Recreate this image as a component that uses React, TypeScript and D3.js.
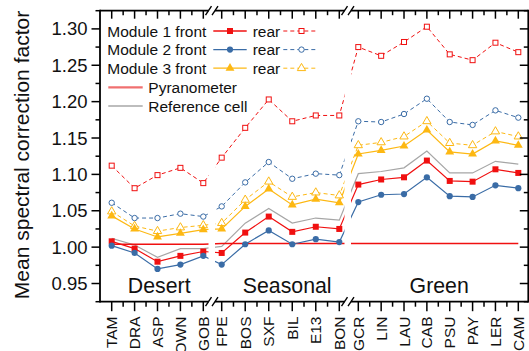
import React from "react";
import * as d3 from "d3";

const desertSites = ["TAM", "DRA", "ASP", "DOWN", "GOB"];
const seasonalSites = ["FPE", "BOS", "SXF", "BIL", "E13", "BON"];
const greenSites = ["GCR", "LIN", "LAU", "CAB", "PSU", "PAY", "LER", "CAM"];
const groupNames = ["Desert", "Seasonal", "Green"];

const m1Front = [1.008, 0.998, 0.980, 0.988, 0.994, 0.992, 1.020, 1.042, 1.021, 1.028, 1.025, 1.086, 1.093, 1.096, 1.119, 1.091, 1.090, 1.107, 1.102];
const m1Rear = [1.112, 1.081, 1.099, 1.109, 1.088, 1.123, 1.164, 1.203, 1.173, 1.181, 1.181, 1.275, 1.263, 1.282, 1.303, 1.265, 1.257, 1.281, 1.268];
const m2Front = [1.002, 0.992, 0.970, 0.976, 0.988, 0.976, 1.004, 1.023, 1.004, 1.011, 1.007, 1.062, 1.072, 1.073, 1.096, 1.070, 1.069, 1.085, 1.081];
const m2Rear = [1.061, 1.040, 1.040, 1.046, 1.042, 1.056, 1.089, 1.117, 1.094, 1.101, 1.099, 1.173, 1.172, 1.183, 1.204, 1.172, 1.168, 1.188, 1.178];
const m3Front = [1.043, 1.025, 1.014, 1.019, 1.024, 1.025, 1.056, 1.080, 1.058, 1.066, 1.061, 1.128, 1.133, 1.139, 1.161, 1.131, 1.128, 1.146, 1.140];
const m3Rear = [1.049, 1.029, 1.022, 1.027, 1.030, 1.033, 1.065, 1.090, 1.069, 1.075, 1.071, 1.140, 1.144, 1.152, 1.173, 1.143, 1.140, 1.159, 1.152];
const refCell = [1.012, 1.003, 0.986, 0.998, 0.998, 1.001, 1.033, 1.053, 1.033, 1.040, 1.037, 1.101, 1.104, 1.109, 1.132, 1.102, 1.102, 1.118, 1.114];
const pyranometer = [1.004, 1.004, 1.004, 1.004, 1.004, 1.005, 1.005, 1.005, 1.005, 1.005, 1.005, 1.005, 1.005, 1.005, 1.005, 1.005, 1.005, 1.005, 1.005];
const yTicks = [0.95, 1.0, 1.05, 1.1, 1.15, 1.2, 1.25, 1.3];

const RED = "#f01010";
const BLUE = "#3a6ca6";
const YEL = "#fdb813";
const FONT = "'Liberation Sans', Arial, sans-serif";

const TOP = 10.7;
const BOT = 301.7;
const LEFT = 100;
const RIGHT = 528.3;

const y = d3.scaleLinear().domain([0.925, 1.325]).range([BOT, TOP]);

// axis segments of the broken x axis
const segLayout = [
  { sites: desertSites, a0: LEFT, a1: 208.5, r: [111.7, 203.3] },
  { sites: seasonalSites, a0: 215, a1: 344.5, r: [221.7, 339.3] },
  { sites: greenSites, a0: 351, a1: RIGHT, r: [358.3, 518.3] },
];
const segs = segLayout.map((s) => ({
  ...s,
  x: d3.scaleLinear().domain([0, s.sites.length - 1]).range(s.r),
}));
const allSites: { name: string; x: number }[] = [];
segs.forEach((s) => s.sites.forEach((n, i) => allSites.push({ name: n, x: s.x(i) })));
const xs = allSites.map((d) => d.x);

const lineGen = d3
  .line<number>()
  .x((_, i) => xs[i])
  .y((v) => y(v));

const triPath = d3.symbol(d3.symbolTriangle, 34)()!;
const triOpen = d3.symbol(d3.symbolTriangle, 30)()!;

type Series = { vals: number[]; color: string; dashed: boolean; marker: string; width: number };
const series: Series[] = [
  { vals: refCell, color: "#a6a6a6", dashed: false, marker: "none", width: 1.2 },
  { vals: pyranometer, color: RED, dashed: false, marker: "none", width: 1.3 },
  { vals: m1Rear, color: RED, dashed: true, marker: "osq", width: 1 },
  { vals: m2Rear, color: BLUE, dashed: true, marker: "oci", width: 1 },
  { vals: m3Rear, color: YEL, dashed: true, marker: "otr", width: 1 },
  { vals: m3Front, color: YEL, dashed: false, marker: "tr", width: 1.2 },
  { vals: m1Front, color: RED, dashed: false, marker: "sq", width: 1.2 },
  { vals: m2Front, color: BLUE, dashed: false, marker: "ci", width: 1.2 },
];

function Marker({ kind, x, yv, color }: { kind: string; x: number; yv: number; color: string }) {
  switch (kind) {
    case "sq":
      return <rect x={x - 3} y={yv - 3} width={6} height={6} fill={color} />;
    case "ci":
      return <circle cx={x} cy={yv} r={3.1} fill={color} />;
    case "tr":
      return <path d={triPath} transform={`translate(${x},${yv})`} fill={color} />;
    case "osq":
      return <rect x={x - 2.5} y={yv - 2.5} width={5} height={5} fill="white" stroke={color} strokeWidth={1} />;
    case "oci":
      return <circle cx={x} cy={yv} r={2.7} fill="white" stroke={color} strokeWidth={1} />;
    case "otr":
      return <path d={triOpen} transform={`translate(${x},${yv})`} fill="white" stroke={color} strokeWidth={1} />;
    default:
      return null;
  }
}

export default function App() {
  const gaps = [
    [segs[0].a1, segs[1].a0],
    [segs[1].a1, segs[2].a0],
  ];
  const minorY = d3.range(0.925, 1.3251, 0.025);
  const legendRows = [
    { label: "Module 1 front", color: RED, f: "sq", r: "osq" },
    { label: "Module 2 front", color: BLUE, f: "ci", r: "oci" },
    { label: "Module 3 front", color: YEL, f: "tr", r: "otr" },
  ];
  const groupCenters = [159.2, 287.2, 439.2];
  return (
    <svg width={529} height={351} style={{ display: "block", position: "absolute", left: 0, top: 0 }} fontFamily={FONT}>
      <rect width={529} height={351} fill="white" />
      {/* series */}
      {series.map((s, k) => (
        <path
          key={"l" + k}
          d={lineGen(s.vals)!}
          fill="none"
          stroke={s.color}
          strokeWidth={s.width}
          strokeDasharray={s.dashed ? "4,3" : undefined}
        />
      ))}
      {series.map((s, k) =>
        s.vals.map((v, i) => <Marker key={`m${k}-${i}`} kind={s.marker} x={xs[i]} yv={y(v)} color={s.color} />)
      )}
      {/* break gaps */}
      {gaps.map((g, i) => (
        <rect key={"g" + i} x={g[0]} y={TOP + 1} width={g[1] - g[0]} height={BOT - TOP - 2} fill="white" />
      ))}
      {/* axes */}
      <g stroke="black" strokeWidth={1.8} fill="none">
        <line x1={LEFT} y1={TOP - 0.9} x2={LEFT} y2={BOT + 0.9} />
        <line x1={RIGHT} y1={TOP - 0.9} x2={RIGHT} y2={BOT + 0.9} />
        {segs.map((s, i) => (
          <g key={"ax" + i}>
            <line x1={s.a0} y1={TOP} x2={s.a1} y2={TOP} />
            <line x1={s.a0} y1={BOT} x2={s.a1} y2={BOT} />
          </g>
        ))}
        {gaps.map((g, i) =>
          g.map((gx, j) => (
            <g key={`br${i}-${j}`} strokeWidth={1.4}>
              <line x1={gx - 3} y1={TOP + 4.5} x2={gx + 3} y2={TOP - 4.5} />
              <line x1={gx - 3} y1={BOT + 4.5} x2={gx + 3} y2={BOT - 4.5} />
            </g>
          ))
        )}
      </g>
      {/* x ticks */}
      <g stroke="black" strokeWidth={1.5}>
        {segs.map((s, i) => {
          const n = s.sites.length;
          const ticks: JSX.Element[] = [];
          for (let t = -0.5; t <= n - 0.5; t += 0.5) {
            const px = s.x(t);
            if (px < s.a0 + 0.5 || px > s.a1 - 1) continue;
            const major = Number.isInteger(t);
            ticks.push(
              <g key={`xt${i}-${t}`}>
                <line x1={px} y1={TOP} x2={px} y2={TOP + (major ? 8 : 4.5)} />
                <line x1={px} y1={BOT} x2={px} y2={BOT + (major ? 9.5 : 5)} />
              </g>
            );
          }
          return <g key={"xs" + i}>{ticks}</g>;
        })}
      </g>
      {/* y ticks */}
      <g stroke="black" strokeWidth={1.5}>
        {minorY.map((v, i) => {
          const major = i % 2 === 1;
          const py = y(v);
          return (
            <g key={"yt" + i}>
              <line x1={LEFT} y1={py} x2={LEFT - (major ? 8.5 : 4.5)} y2={py} />
              <line x1={RIGHT} y1={py} x2={RIGHT - (major ? 8.5 : 4.5)} y2={py} />
            </g>
          );
        })}
      </g>
      {yTicks.map((v) => (
        <text key={"yl" + v} x={87.5} y={y(v)} textAnchor="end" dominantBaseline="central" fontSize={18.5} fill="#111">
          {v.toFixed(2)}
        </text>
      ))}
      {allSites.map((d) => (
        <text
          key={"xl" + d.name}
          transform={`translate(${d.x},316.5) rotate(-90)`}
          textAnchor="end"
          dominantBaseline="central"
          fontSize={15.5}
          fill="#111"
        >
          {d.name}
        </text>
      ))}
      {groupNames.map((g, i) => (
        <text key={g} x={groupCenters[i]} y={293.3} textAnchor="middle" fontSize={21.3} fill="#111">
          {g}
        </text>
      ))}
      <text transform="translate(29,155) rotate(-90)" textAnchor="middle" fontSize={21} fill="#111">
        Mean spectral correction factor
      </text>
      {/* legend */}
      {legendRows.map((r, i) => {
        const cy = 31 + i * 18.6;
        return (
          <g key={"lg" + i}>
            <text x={107.3} y={cy} dominantBaseline="central" fontSize={15.5} fill="#111">
              {r.label}
            </text>
            <line x1={213.3} y1={cy} x2={246.7} y2={cy} stroke={r.color} strokeWidth={1.3} />
            <Marker kind={r.f} x={230} yv={cy} color={r.color} />
            <text x={252.7} y={cy} dominantBaseline="central" fontSize={15.5} fill="#111">
              rear
            </text>
            <line x1={283.3} y1={cy} x2={318.3} y2={cy} stroke={r.color} strokeWidth={1} strokeDasharray="4,3" />
            <Marker kind={r.r} x={301.5} yv={cy} color={r.color} />
          </g>
        );
      })}
      <line x1={108.3} y1={87.3} x2={142.7} y2={87.3} stroke="#f07070" strokeWidth={2.2} />
      <text x={148.3} y={87.3} dominantBaseline="central" fontSize={15.5} fill="#111">
        Pyranometer
      </text>
      <line x1={108.3} y1={106} x2={142.7} y2={106} stroke="#bdbdbd" strokeWidth={1.8} />
      <text x={148.3} y={106} dominantBaseline="central" fontSize={15.5} fill="#111">
        Reference cell
      </text>
    </svg>
  );
}
